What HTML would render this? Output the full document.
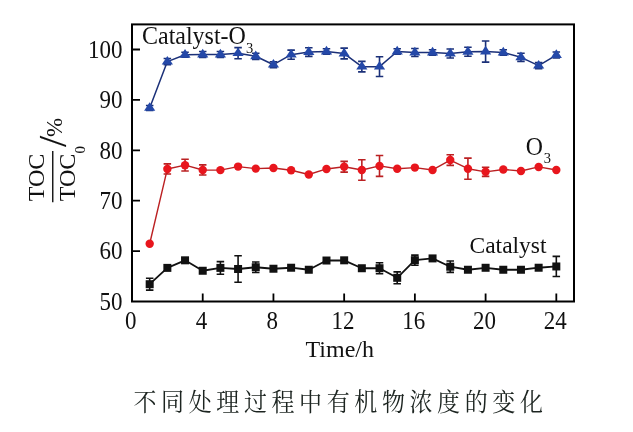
<!DOCTYPE html>
<html><head><meta charset="utf-8"><style>
html,body{margin:0;padding:0;background:#fff;}
body{width:633px;height:432px;overflow:hidden;position:relative;}
svg{position:absolute;left:0;top:0;}
.t{font-family:"Liberation Serif","Times New Roman",serif;font-size:23px;fill:#111;}
.cap{position:absolute;left:133.5px;top:390px;font-family:"Liberation Serif","Noto Serif CJK SC",serif;font-weight:400;font-size:23px;letter-spacing:4.6px;color:#1c2420;white-space:nowrap;line-height:1;transform:scaleY(1.08);transform-origin:0 0;}
</style></head><body>
<svg width="633" height="432" viewBox="0 0 633 432">
<rect x="132" y="24.4" width="442" height="277.1" fill="none" stroke="#000" stroke-width="2"/>
<path d="M132 251.1H140M132 200.7H140M132 150.3H140M132 99.9H140M132 49.5H140M202.72 301.5V293.4M273.44 301.5V293.4M344.16 301.5V293.4M414.88 301.5V293.4M485.6 301.5V293.4M556.32 301.5V293.4" stroke="#000" stroke-width="1.8" fill="none"/>
<text transform="translate(122.5,309.7) scale(1,1.07)" text-anchor="end" class="t">50</text>
<text transform="translate(122.5,259.3) scale(1,1.07)" text-anchor="end" class="t">60</text>
<text transform="translate(122.5,208.9) scale(1,1.07)" text-anchor="end" class="t">70</text>
<text transform="translate(122.5,158.5) scale(1,1.07)" text-anchor="end" class="t">80</text>
<text transform="translate(122.5,108.1) scale(1,1.07)" text-anchor="end" class="t">90</text>
<text transform="translate(122.5,57.7) scale(1,1.07)" text-anchor="end" class="t">100</text>
<text transform="translate(130.8,328.7) scale(1,1.07)" text-anchor="middle" class="t">0</text>
<text transform="translate(201.52,328.7) scale(1,1.07)" text-anchor="middle" class="t">4</text>
<text transform="translate(272.24,328.7) scale(1,1.07)" text-anchor="middle" class="t">8</text>
<text transform="translate(342.96,328.7) scale(1,1.07)" text-anchor="middle" class="t">12</text>
<text transform="translate(413.68,328.7) scale(1,1.07)" text-anchor="middle" class="t">16</text>
<text transform="translate(484.4,328.7) scale(1,1.07)" text-anchor="middle" class="t">20</text>
<text transform="translate(555.12,328.7) scale(1,1.07)" text-anchor="middle" class="t">24</text>
<polyline points="149.68,284.21 167.36,267.88 185.04,260.32 202.72,270.76 220.4,267.88 238.08,268.99 255.76,267.23 273.44,268.74 291.12,267.73 308.8,269.75 326.48,260.52 344.16,260.32 361.84,268.24 379.52,268.24 397.2,277.81 414.88,260.17 432.56,258.41 450.24,266.72 467.92,269.75 485.6,267.78 503.28,269.75 520.96,269.75 538.64,267.73 556.32,266.47" fill="none" stroke="#111" stroke-width="1.8" stroke-linejoin="round"/>
<path d="M149.68 278.32V290.11M145.93 278.32H153.43M145.93 290.11H153.43" stroke="#111" stroke-width="1.6" fill="none"/>
<path d="M220.4 261.58V274.18M216.65 261.58H224.15M216.65 274.18H224.15" stroke="#111" stroke-width="1.6" fill="none"/>
<path d="M238.08 255.69V282.3M234.33 255.69H241.83M234.33 282.3H241.83" stroke="#111" stroke-width="1.6" fill="none"/>
<path d="M255.76 261.94V272.52M252.01 261.94H259.51M252.01 272.52H259.51" stroke="#111" stroke-width="1.6" fill="none"/>
<path d="M379.52 262.69V273.78M375.77 262.69H383.27M375.77 273.78H383.27" stroke="#111" stroke-width="1.6" fill="none"/>
<path d="M397.2 271.92V283.71M393.45 271.92H400.95M393.45 283.71H400.95" stroke="#111" stroke-width="1.6" fill="none"/>
<path d="M414.88 255.13V265.21M411.13 255.13H418.63M411.13 265.21H418.63" stroke="#111" stroke-width="1.6" fill="none"/>
<path d="M450.24 261.03V272.42M446.49 261.03H453.99M446.49 272.42H453.99" stroke="#111" stroke-width="1.6" fill="none"/>
<path d="M556.32 256.39V276.55M552.57 256.39H560.07M552.57 276.55H560.07" stroke="#111" stroke-width="1.6" fill="none"/>
<rect x="145.68" y="280.21" width="8" height="8" fill="#111"/>
<rect x="163.36" y="263.88" width="8" height="8" fill="#111"/>
<rect x="181.04" y="256.32" width="8" height="8" fill="#111"/>
<rect x="198.72" y="266.76" width="8" height="8" fill="#111"/>
<rect x="216.4" y="263.88" width="8" height="8" fill="#111"/>
<rect x="234.08" y="264.99" width="8" height="8" fill="#111"/>
<rect x="251.76" y="263.23" width="8" height="8" fill="#111"/>
<rect x="269.44" y="264.74" width="8" height="8" fill="#111"/>
<rect x="287.12" y="263.73" width="8" height="8" fill="#111"/>
<rect x="304.8" y="265.75" width="8" height="8" fill="#111"/>
<rect x="322.48" y="256.52" width="8" height="8" fill="#111"/>
<rect x="340.16" y="256.32" width="8" height="8" fill="#111"/>
<rect x="357.84" y="264.24" width="8" height="8" fill="#111"/>
<rect x="375.52" y="264.24" width="8" height="8" fill="#111"/>
<rect x="393.2" y="273.81" width="8" height="8" fill="#111"/>
<rect x="410.88" y="256.17" width="8" height="8" fill="#111"/>
<rect x="428.56" y="254.41" width="8" height="8" fill="#111"/>
<rect x="446.24" y="262.72" width="8" height="8" fill="#111"/>
<rect x="463.92" y="265.75" width="8" height="8" fill="#111"/>
<rect x="481.6" y="263.78" width="8" height="8" fill="#111"/>
<rect x="499.28" y="265.75" width="8" height="8" fill="#111"/>
<rect x="516.96" y="265.75" width="8" height="8" fill="#111"/>
<rect x="534.64" y="263.73" width="8" height="8" fill="#111"/>
<rect x="552.32" y="262.47" width="8" height="8" fill="#111"/>
<polyline points="149.68,243.74 167.36,168.95 185.04,165.17 202.72,169.96 220.4,170.11 238.08,166.58 255.76,168.6 273.44,167.94 291.12,170.21 308.8,174.49 326.48,168.95 344.16,166.78 361.84,169.96 379.52,165.92 397.2,168.7 414.88,167.59 432.56,169.96 450.24,160.03 467.92,168.7 485.6,171.82 503.28,169.45 520.96,170.96 538.64,166.93 556.32,169.96" fill="none" stroke="#bb2022" stroke-width="1.4" stroke-linejoin="round"/>
<path d="M167.36 163.91V173.99M163.61 163.91H171.11M163.61 173.99H171.11" stroke="#bb2022" stroke-width="1.6" fill="none"/>
<path d="M185.04 159.27V171.06M181.29 159.27H188.79M181.29 171.06H188.79" stroke="#bb2022" stroke-width="1.6" fill="none"/>
<path d="M202.72 164.92V175M198.97 164.92H206.47M198.97 175H206.47" stroke="#bb2022" stroke-width="1.6" fill="none"/>
<path d="M344.16 161.39V172.17M340.41 161.39H347.91M340.41 172.17H347.91" stroke="#bb2022" stroke-width="1.6" fill="none"/>
<path d="M361.84 159.72V180.19M358.09 159.72H365.59M358.09 180.19H365.59" stroke="#bb2022" stroke-width="1.6" fill="none"/>
<path d="M379.52 155.49V176.36M375.77 155.49H383.27M375.77 176.36H383.27" stroke="#bb2022" stroke-width="1.6" fill="none"/>
<path d="M450.24 154.68V165.37M446.49 154.68H453.99M446.49 165.37H453.99" stroke="#bb2022" stroke-width="1.6" fill="none"/>
<path d="M467.92 158.11V179.28M464.17 158.11H471.67M464.17 179.28H471.67" stroke="#bb2022" stroke-width="1.6" fill="none"/>
<path d="M485.6 167.28V176.36M481.85 167.28H489.35M481.85 176.36H489.35" stroke="#bb2022" stroke-width="1.6" fill="none"/>
<circle cx="149.68" cy="243.74" r="4.2" fill="#e8161d"/>
<circle cx="167.36" cy="168.95" r="4.2" fill="#e8161d"/>
<circle cx="185.04" cy="165.17" r="4.2" fill="#e8161d"/>
<circle cx="202.72" cy="169.96" r="4.2" fill="#e8161d"/>
<circle cx="220.4" cy="170.11" r="4.2" fill="#e8161d"/>
<circle cx="238.08" cy="166.58" r="4.2" fill="#e8161d"/>
<circle cx="255.76" cy="168.6" r="4.2" fill="#e8161d"/>
<circle cx="273.44" cy="167.94" r="4.2" fill="#e8161d"/>
<circle cx="291.12" cy="170.21" r="4.2" fill="#e8161d"/>
<circle cx="308.8" cy="174.49" r="4.2" fill="#e8161d"/>
<circle cx="326.48" cy="168.95" r="4.2" fill="#e8161d"/>
<circle cx="344.16" cy="166.78" r="4.2" fill="#e8161d"/>
<circle cx="361.84" cy="169.96" r="4.2" fill="#e8161d"/>
<circle cx="379.52" cy="165.92" r="4.2" fill="#e8161d"/>
<circle cx="397.2" cy="168.7" r="4.2" fill="#e8161d"/>
<circle cx="414.88" cy="167.59" r="4.2" fill="#e8161d"/>
<circle cx="432.56" cy="169.96" r="4.2" fill="#e8161d"/>
<circle cx="450.24" cy="160.03" r="4.2" fill="#e8161d"/>
<circle cx="467.92" cy="168.7" r="4.2" fill="#e8161d"/>
<circle cx="485.6" cy="171.82" r="4.2" fill="#e8161d"/>
<circle cx="503.28" cy="169.45" r="4.2" fill="#e8161d"/>
<circle cx="520.96" cy="170.96" r="4.2" fill="#e8161d"/>
<circle cx="538.64" cy="166.93" r="4.2" fill="#e8161d"/>
<circle cx="556.32" cy="169.96" r="4.2" fill="#e8161d"/>
<polyline points="149.68,107.96 167.36,61.6 185.04,54.79 202.72,54.54 220.4,54.54 238.08,53.18 255.76,56.3 273.44,64.72 291.12,54.69 308.8,52.02 326.48,51.52 344.16,53.53 361.84,66.64 379.52,66.64 397.2,51.52 414.88,52.52 432.56,52.52 450.24,53.53 467.92,51.77 485.6,51.52 503.28,52.52 520.96,57.31 538.64,65.63 556.32,55.04" fill="none" stroke="#1b3078" stroke-width="1.5" stroke-linejoin="round"/>
<path d="M149.68 105.44V110.48M145.93 105.44H153.43M145.93 110.48H153.43" stroke="#1b3078" stroke-width="1.6" fill="none"/>
<path d="M167.36 58.57V64.62M163.61 58.57H171.11M163.61 64.62H171.11" stroke="#1b3078" stroke-width="1.6" fill="none"/>
<path d="M185.04 52.27V57.31M181.29 52.27H188.79M181.29 57.31H188.79" stroke="#1b3078" stroke-width="1.6" fill="none"/>
<path d="M202.72 51.52V57.56M198.97 51.52H206.47M198.97 57.56H206.47" stroke="#1b3078" stroke-width="1.6" fill="none"/>
<path d="M220.4 51.52V57.56M216.65 51.52H224.15M216.65 57.56H224.15" stroke="#1b3078" stroke-width="1.6" fill="none"/>
<path d="M238.08 47.64V58.72M234.33 47.64H241.83M234.33 58.72H241.83" stroke="#1b3078" stroke-width="1.6" fill="none"/>
<path d="M255.76 53.28V59.33M252.01 53.28H259.51M252.01 59.33H259.51" stroke="#1b3078" stroke-width="1.6" fill="none"/>
<path d="M273.44 61.7V67.74M269.69 61.7H277.19M269.69 67.74H277.19" stroke="#1b3078" stroke-width="1.6" fill="none"/>
<path d="M291.12 50.16V59.23M287.37 50.16H294.87M287.37 59.23H294.87" stroke="#1b3078" stroke-width="1.6" fill="none"/>
<path d="M308.8 47.69V56.35M305.05 47.69H312.55M305.05 56.35H312.55" stroke="#1b3078" stroke-width="1.6" fill="none"/>
<path d="M326.48 48.74V54.29M322.73 48.74H330.23M322.73 54.29H330.23" stroke="#1b3078" stroke-width="1.6" fill="none"/>
<path d="M344.16 48.14V58.92M340.41 48.14H347.91M340.41 58.92H347.91" stroke="#1b3078" stroke-width="1.6" fill="none"/>
<path d="M361.84 61.39V71.88M358.09 61.39H365.59M358.09 71.88H365.59" stroke="#1b3078" stroke-width="1.6" fill="none"/>
<path d="M379.52 56.81V76.46M375.77 56.81H383.27M375.77 76.46H383.27" stroke="#1b3078" stroke-width="1.6" fill="none"/>
<path d="M397.2 48.74V54.29M393.45 48.74H400.95M393.45 54.29H400.95" stroke="#1b3078" stroke-width="1.6" fill="none"/>
<path d="M414.88 48.49V56.56M411.13 48.49H418.63M411.13 56.56H418.63" stroke="#1b3078" stroke-width="1.6" fill="none"/>
<path d="M432.56 49.75V55.3M428.81 49.75H436.31M428.81 55.3H436.31" stroke="#1b3078" stroke-width="1.6" fill="none"/>
<path d="M450.24 49V58.07M446.49 49H453.99M446.49 58.07H453.99" stroke="#1b3078" stroke-width="1.6" fill="none"/>
<path d="M467.92 47.23V56.3M464.17 47.23H471.67M464.17 56.3H471.67" stroke="#1b3078" stroke-width="1.6" fill="none"/>
<path d="M485.6 40.93V62.1M481.85 40.93H489.35M481.85 62.1H489.35" stroke="#1b3078" stroke-width="1.6" fill="none"/>
<path d="M503.28 49.75V55.3M499.53 49.75H507.03M499.53 55.3H507.03" stroke="#1b3078" stroke-width="1.6" fill="none"/>
<path d="M520.96 53.28V61.34M517.21 53.28H524.71M517.21 61.34H524.71" stroke="#1b3078" stroke-width="1.6" fill="none"/>
<path d="M538.64 62.6V68.65M534.89 62.6H542.39M534.89 68.65H542.39" stroke="#1b3078" stroke-width="1.6" fill="none"/>
<path d="M556.32 52.02V58.07M552.57 52.02H560.07M552.57 58.07H560.07" stroke="#1b3078" stroke-width="1.6" fill="none"/>
<path d="M149.68 102.26L155.28 110.86L144.08 110.86Z" fill="#2448a8"/>
<path d="M167.36 55.9L172.96 64.5L161.76 64.5Z" fill="#2448a8"/>
<path d="M185.04 49.09L190.64 57.69L179.44 57.69Z" fill="#2448a8"/>
<path d="M202.72 48.84L208.32 57.44L197.12 57.44Z" fill="#2448a8"/>
<path d="M220.4 48.84L226 57.44L214.8 57.44Z" fill="#2448a8"/>
<path d="M238.08 47.48L243.68 56.08L232.48 56.08Z" fill="#2448a8"/>
<path d="M255.76 50.6L261.36 59.2L250.16 59.2Z" fill="#2448a8"/>
<path d="M273.44 59.02L279.04 67.62L267.84 67.62Z" fill="#2448a8"/>
<path d="M291.12 48.99L296.72 57.59L285.52 57.59Z" fill="#2448a8"/>
<path d="M308.8 46.32L314.4 54.92L303.2 54.92Z" fill="#2448a8"/>
<path d="M326.48 45.82L332.08 54.42L320.88 54.42Z" fill="#2448a8"/>
<path d="M344.16 47.83L349.76 56.43L338.56 56.43Z" fill="#2448a8"/>
<path d="M361.84 60.94L367.44 69.54L356.24 69.54Z" fill="#2448a8"/>
<path d="M379.52 60.94L385.12 69.54L373.92 69.54Z" fill="#2448a8"/>
<path d="M397.2 45.82L402.8 54.42L391.6 54.42Z" fill="#2448a8"/>
<path d="M414.88 46.82L420.48 55.42L409.28 55.42Z" fill="#2448a8"/>
<path d="M432.56 46.82L438.16 55.42L426.96 55.42Z" fill="#2448a8"/>
<path d="M450.24 47.83L455.84 56.43L444.64 56.43Z" fill="#2448a8"/>
<path d="M467.92 46.07L473.52 54.67L462.32 54.67Z" fill="#2448a8"/>
<path d="M485.6 45.82L491.2 54.42L480 54.42Z" fill="#2448a8"/>
<path d="M503.28 46.82L508.88 55.42L497.68 55.42Z" fill="#2448a8"/>
<path d="M520.96 51.61L526.56 60.21L515.36 60.21Z" fill="#2448a8"/>
<path d="M538.64 59.93L544.24 68.53L533.04 68.53Z" fill="#2448a8"/>
<path d="M556.32 49.34L561.92 57.94L550.72 57.94Z" fill="#2448a8"/>
<text transform="translate(142,43.9) scale(1,1.05)" class="t" style="font-size:24px">Catalyst-O<tspan dx="0" dy="8.4" style="font-size:14.5px">3</tspan></text>
<text transform="translate(525.8,154.6) scale(1,1.06)" class="t" style="font-size:23.8px">O<tspan dx="0.8" dy="8.2" style="font-size:14.5px">3</tspan></text>
<text x="469.5" y="252.8" class="t" style="font-size:23.5px">Catalyst</text>
<text x="339.8" y="356.5" text-anchor="middle" class="t" style="font-size:24px">Time/h</text>
<text transform="translate(44,201.3) rotate(-90) scale(1.07,1)" class="t" style="font-size:22.5px">TOC</text>
<text transform="translate(75.4,201.3) rotate(-90) scale(1.07,1)" class="t" style="font-size:22.5px">TOC<tspan dx="0" dy="9.3" style="font-size:14px">0</tspan></text>
<path d="M52.75 151V202.2" stroke="#111" stroke-width="1.4"/>
<text transform="translate(65.8,147) rotate(-90)" class="t" style="font-size:40.5px;stroke:#111;stroke-width:0.15px">/</text>
<text transform="translate(61.8,137) rotate(-90)" class="t" style="font-size:23px">%</text>
</svg>
<div class="cap">不同处理过程中有机物浓度的变化</div>
</body></html>
